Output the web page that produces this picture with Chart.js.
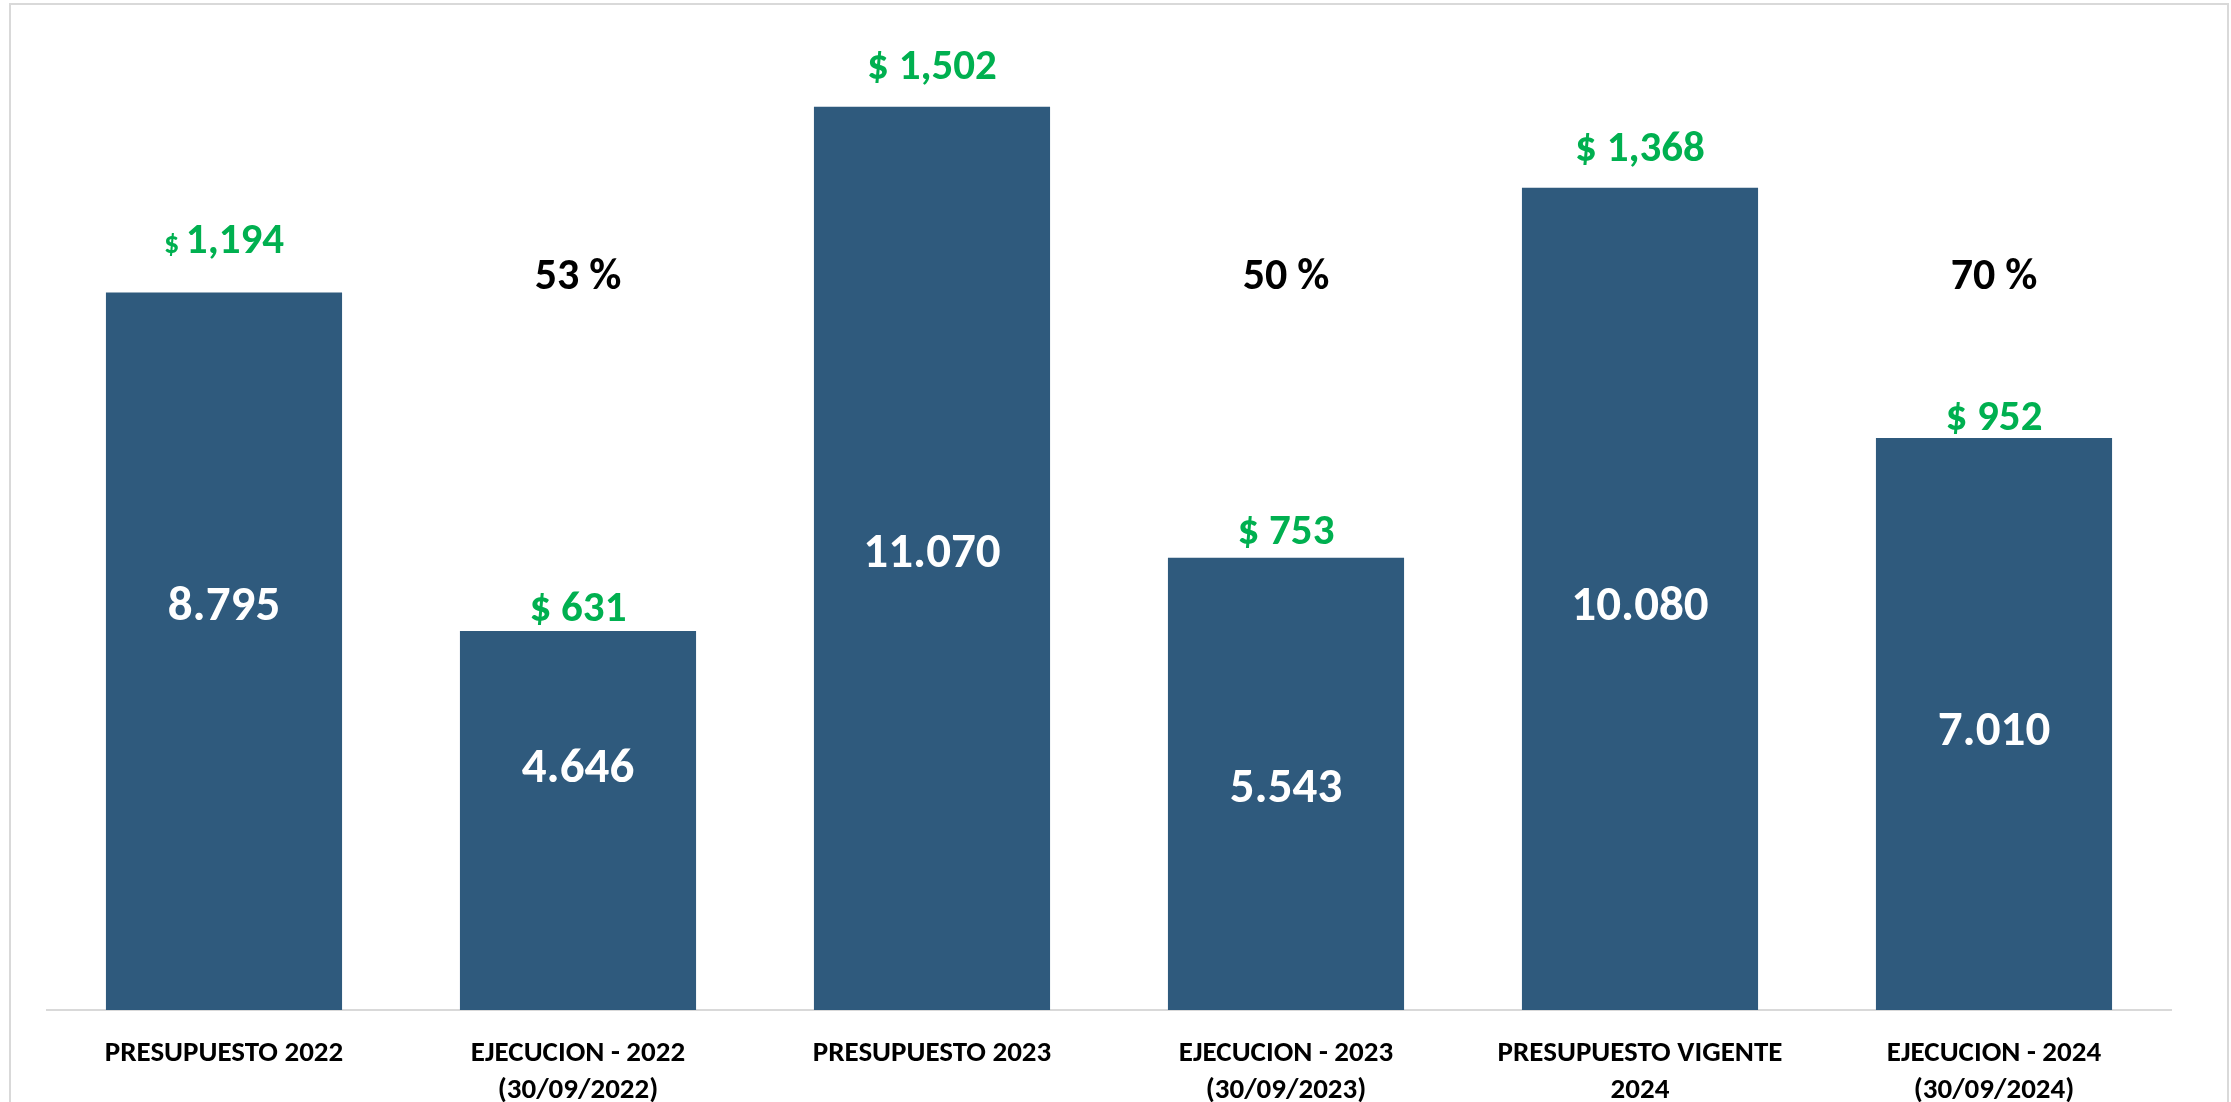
<!DOCTYPE html>
<html>
<head>
<meta charset="utf-8">
<script src="https://cdn.jsdelivr.net/npm/chart.js@4.4.1/dist/chart.umd.min.js"></script>
<style>
  html, body { margin: 0; padding: 0; background: #ffffff; }
  #wrap { width: 2231px; height: 1102px; position: relative; }
</style>
</head>
<body>
<div id="wrap"><canvas id="c" width="2231" height="1102"></canvas></div>
<script>
// ---- data ----
const categories = [
  ["PRESUPUESTO 2022"],
  ["EJECUCION - 2022", "(30/09/2022)"],
  ["PRESUPUESTO 2023"],
  ["EJECUCION - 2023", "(30/09/2023)"],
  ["PRESUPUESTO VIGENTE", "2024"],
  ["EJECUCION - 2024", "(30/09/2024)"]
];
const amounts = [8795, 4646, 11070, 5543, 10080, 7010];
const usdAmounts = [1194, 631, 1502, 753, 1368, 952];
const executionPct = [null, 53, null, 50, null, 70];

const FONT = "Carlito, 'Liberation Sans Narrow', Lato, 'Open Sans', sans-serif";
const BAR = '#2F5A7D';
const GREEN = '#00B050';

function fmtDots(v) { return v.toString().replace(/\B(?=(\d{3})+(?!\d))/g, '.'); }
function fmtCommas(v) { return v.toString().replace(/\B(?=(\d{3})+(?!\d))/g, ','); }

const labelPlugin = {
  id: 'labels',
  beforeDraw(chart) {
    const ctx = chart.ctx;
    ctx.save();
    ctx.fillStyle = '#ffffff';
    ctx.fillRect(0, 0, chart.width, chart.height);
    ctx.strokeStyle = '#d9d9d9';
    ctx.lineWidth = 2;
    ctx.strokeRect(10, 4, chart.width - 13, chart.height + 20);
    ctx.restore();
  },
  afterDatasetsDraw(chart, args, opts) {
    const ctx = chart.ctx;
    const meta = chart.getDatasetMeta(0);
    const yScale = chart.scales.y;
    ctx.save();
    ctx.textAlign = 'center';
    ctx.textBaseline = 'middle';
    meta.data.forEach((bar, i) => {
      const p = bar.getProps(['x', 'y', 'base'], true);
      // inner white value
      ctx.fillStyle = '#ffffff';
      ctx.font = 'bold 49px ' + FONT;
      ctx.fillText(fmtDots(amounts[i]), p.x, (p.y + p.base) / 2 + opts.innerShift[i]);
      // green USD label above
      const gy = p.y - opts.gapAbove[i];
      ctx.fillStyle = GREEN;
      const num = fmtCommas(usdAmounts[i]);
      if (opts.smallDollar[i]) {
        ctx.font = 'bold 43px ' + FONT;
        const wNum = ctx.measureText(num).width;
        ctx.font = 'bold 30px ' + FONT;
        const wD = ctx.measureText('$ ').width;
        const startX = p.x - (wNum + wD) / 2;
        ctx.textAlign = 'left';
        ctx.fillText('$ ', startX, gy + 3);
        ctx.font = 'bold 43px ' + FONT;
        ctx.fillText(num, startX + wD, gy);
        ctx.textAlign = 'center';
      } else {
        ctx.font = 'bold 43px ' + FONT;
        ctx.fillText('$ ' + num, p.x, gy);
      }
      // execution percent
      if (executionPct[i] !== null) {
        ctx.fillStyle = '#000000';
        ctx.font = 'bold 44px ' + FONT;
        ctx.fillText(executionPct[i] + ' %', p.x, yScale.getPixelForValue(opts.pctLevel));
      }
    });
    ctx.restore();
  }
};

new Chart(document.getElementById('c'), {
  type: 'bar',
  data: {
    labels: categories,
    datasets: [{
      data: amounts,
      backgroundColor: BAR,
      borderWidth: 0,
      barPercentage: 0.667,
      categoryPercentage: 1.0
    }]
  },
  options: {
    responsive: false,
    animation: false,
    devicePixelRatio: 1,
    layout: { padding: { left: 47, right: 60, top: 31, bottom: 0 } },
    plugins: {
      legend: { display: false },
      tooltip: { enabled: false },
      labels: {
        gapAbove: [50, 21, 39, 25, 37, 19],
        innerShift: [-43, -51, -4, 6, 9, 9],
        smallDollar: [true, false, false, false, false, false],
        pctLevel: 8970
      }
    },
    scales: {
      y: {
        display: false,
        min: 0,
        max: 12000
      },
      x: {
        grid: { display: false },
        border: { display: true, color: '#d9d9d9', width: 2 },
        ticks: {
          color: '#000000',
          padding: 17,
          maxRotation: 0,
          autoSkip: false,
          font: { family: FONT, size: 29, weight: 'bold', lineHeight: 1.28 }
        },
        afterFit(axis) { axis.height = 92; }
      }
    }
  },
  plugins: [labelPlugin]
});
</script>
</body>
</html>
